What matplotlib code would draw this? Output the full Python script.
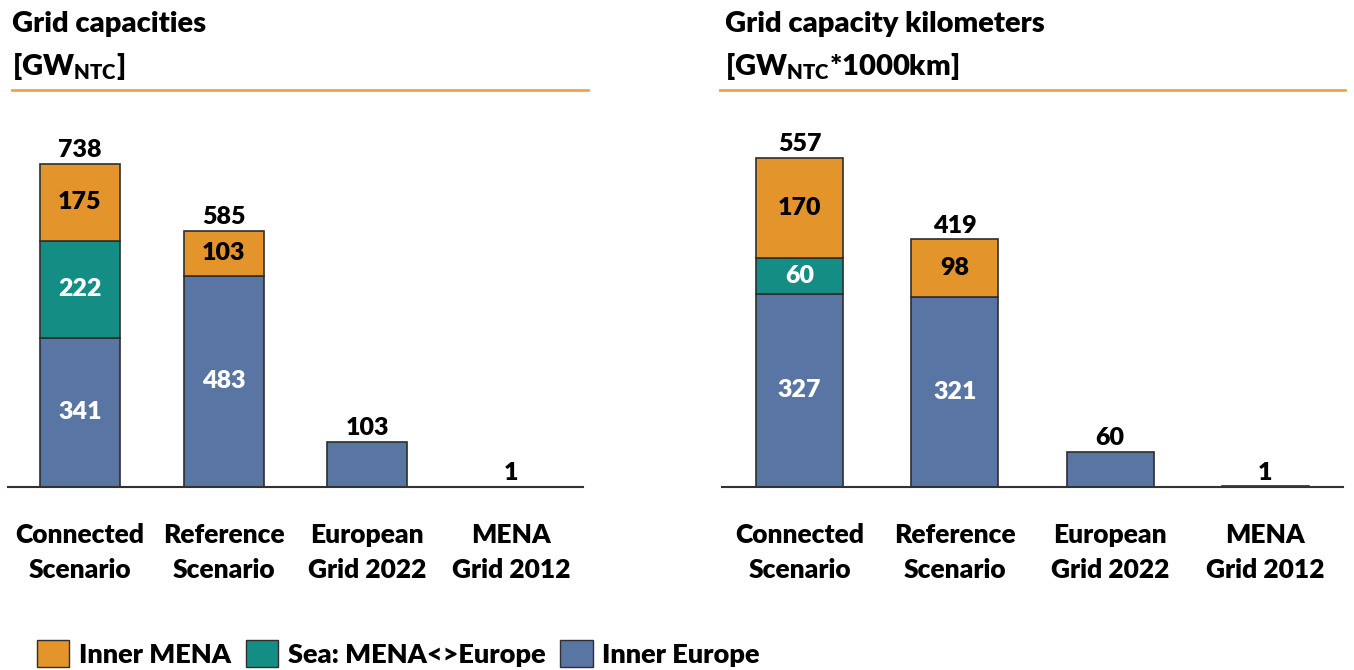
import numpy as np
import matplotlib
matplotlib.use("Agg")
import matplotlib.pyplot as plt
from matplotlib.patches import Patch
from matplotlib.lines import Line2D

plt.rcParams['font.family'] = ['Lato', 'DejaVu Sans']
plt.rcParams['font.weight'] = 'heavy'
plt.rcParams['mathtext.fontset'] = 'custom'
plt.rcParams['mathtext.bf'] = 'Lato:heavy'
plt.rcParams['mathtext.rm'] = 'Lato:heavy'

# Data
categories = ['Connected\nScenario', 'Reference\nScenario', 'European\nGrid 2022', 'MENA\nGrid 2012']
series_names = ['Inner MENA', 'Sea: MENA<>Europe', 'Inner Europe']

cap_inner_europe = [341, 483, 103, 1]
cap_sea = [222, 0, 0, 0]
cap_inner_mena = [175, 103, 0, 0]
cap_totals = [738, 585, 103, 1]

km_inner_europe = [327, 321, 60, 1]
km_sea = [60, 0, 0, 0]
km_inner_mena = [170, 98, 0, 0]
km_totals = [557, 419, 60, 1]

c_mena = '#E3952C'
c_sea = '#148E85'
c_europe = '#5975A3'
c_edge = '#2E2E2E'
c_line = '#F0A24A'

WT = 'heavy'
W, H = 1354, 670
fig = plt.figure(figsize=(W / 100, H / 100), dpi=100)


def panel(rect, europe, sea, mena, totals, ymax, width):
    ax = fig.add_axes(rect)
    x = np.arange(len(categories))
    europe = np.array(europe)
    sea = np.array(sea)
    mena = np.array(mena)
    kw = dict(width=width, edgecolor=c_edge, linewidth=1.2, zorder=2)
    ax.bar(x, europe, color=c_europe, **kw)
    ax.bar(x[sea > 0], sea[sea > 0], bottom=europe[sea > 0], color=c_sea, **kw)
    m = mena > 0
    ax.bar(x[m], mena[m], bottom=(europe + sea)[m], color=c_mena, **kw)

    # segment labels (only stacked bars)
    for i in range(len(x)):
        if sea[i] == 0 and mena[i] == 0:
            continue
        ax.text(x[i], europe[i] / 2, str(europe[i]), ha='center', va='center',
                color='white', fontsize=18, fontweight=WT)
        if sea[i] > 0:
            ax.text(x[i], europe[i] + sea[i] / 2, str(sea[i]), ha='center', va='center',
                    color='white', fontsize=18, fontweight=WT)
        if mena[i] > 0:
            ax.text(x[i], europe[i] + sea[i] + mena[i] / 2, str(mena[i]), ha='center',
                    va='center', color='black', fontsize=18, fontweight=WT)
    for i in range(len(x)):
        ax.annotate(str(totals[i]), (x[i], totals[i]), xytext=(0, 2),
                    textcoords='offset points', ha='center', va='bottom',
                    fontsize=18, fontweight=WT, color='black')

    ax.set_xlim(-0.5, 3.5)
    ax.set_ylim(0, ymax)
    for s in ['top', 'right', 'left']:
        ax.spines[s].set_visible(False)
    ax.spines['bottom'].set_color('#333333')
    ax.spines['bottom'].set_linewidth(1.5)
    ax.set_yticks([])
    ax.set_xticks(x)
    ax.set_xticklabels(categories, fontsize=19, fontweight=WT, linespacing=1.55)
    ax.tick_params(axis='x', length=0, pad=26)
    return ax


def fx(px):
    return px / W


def fy(py):
    return 1 - py / H


top_px = 100
base_px = 487
h = (base_px - top_px) / H

panel([fx(8), fy(base_px), fx(583 - 8), h], cap_inner_europe, cap_sea, cap_inner_mena,
      cap_totals, (base_px - top_px) / 0.4377, 0.557)
panel([fx(722), fy(base_px), fx(1343 - 722), h], km_inner_europe, km_sea, km_inner_mena,
      km_totals, (base_px - top_px) / 0.5907, 0.56)

# titles
fig.text(fx(12), fy(24), 'Grid capacities', fontsize=21, fontweight=WT, va='center')
fig.text(fx(12), fy(66), r'$\mathbf{[GW_{NTC}]}$', fontsize=21, va='center')
fig.text(fx(725), fy(24), 'Grid capacity kilometers', fontsize=21, fontweight=WT, va='center')
fig.text(fx(725), fy(66), r'$\mathbf{[GW_{NTC}{*}1000km]}$', fontsize=21, va='center')
fig.add_artist(Line2D([fx(12), fx(588)], [fy(90), fy(90)], color=c_line, linewidth=2))
fig.add_artist(Line2D([fx(720), fx(1345)], [fy(90), fy(90)], color=c_line, linewidth=2))

# legend
handles = [Patch(facecolor=c, edgecolor=c_edge, linewidth=1.0) for c in [c_mena, c_sea, c_europe]]
fig.legend(handles, series_names, loc='lower left', bbox_to_anchor=(fx(34), fy(670)),
           ncol=3, frameon=False, prop={'size': 19.5, 'weight': WT}, handlelength=1.2,
           handleheight=1.2, handletextpad=0.35, columnspacing=0.55, borderaxespad=0,
           borderpad=0.1)

fig.savefig('out.png', dpi=100)
